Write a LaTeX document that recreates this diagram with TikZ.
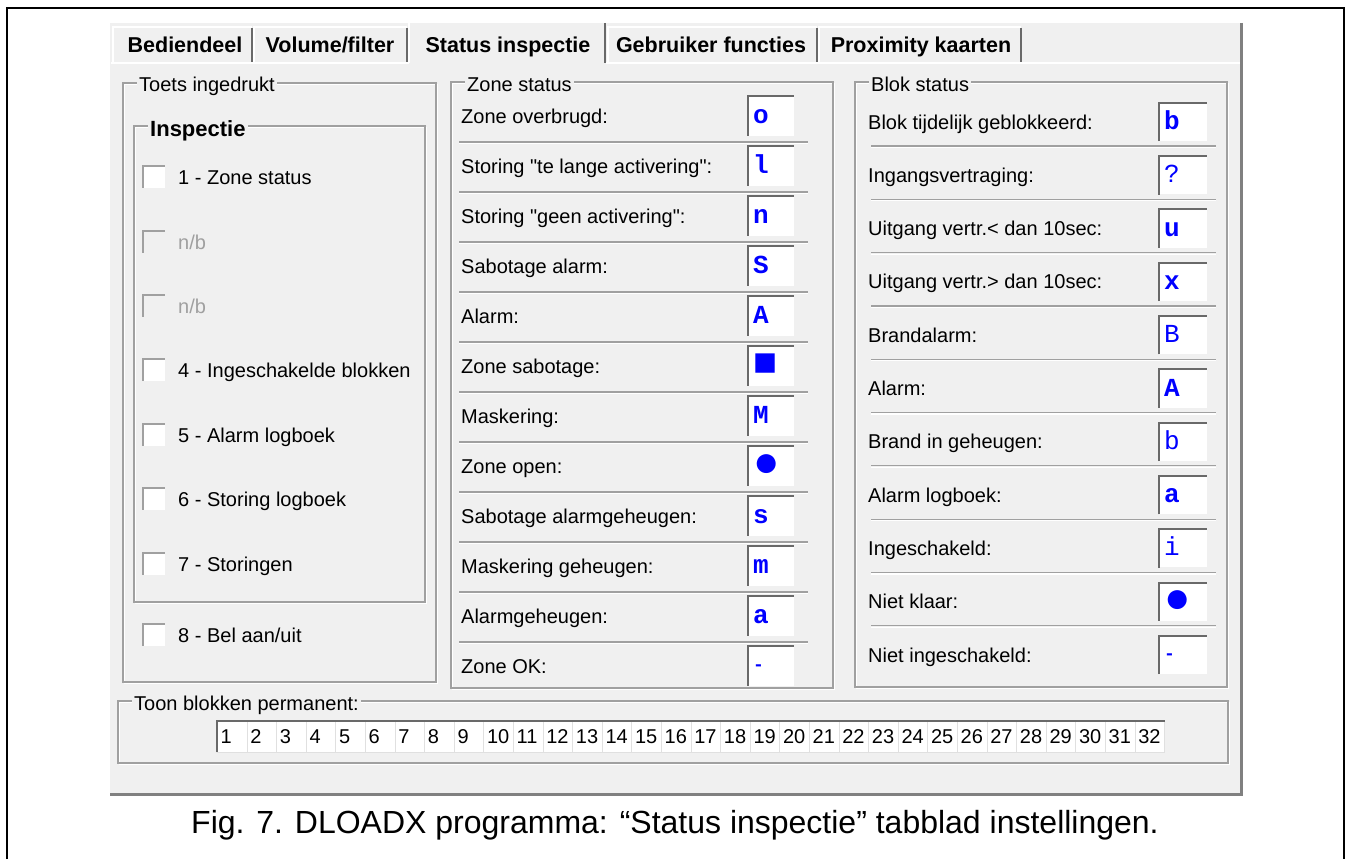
\documentclass[tikz,border=0pt]{standalone}
\usepackage{fontspec}
\setmainfont{Liberation Sans}
\newfontfamily\codefont{Liberation Mono}
\usetikzlibrary{positioning}
\definecolor{winbg}{HTML}{F0F0F0}
\definecolor{etchgrey}{HTML}{A0A0A0}
\definecolor{darkedge}{HTML}{696969}
\definecolor{winedge}{HTML}{808080}
\definecolor{valblue}{HTML}{0000FF}
\definecolor{greyed}{HTML}{A0A0A0}
\newcommand{\uifont}{\fontsize{20}{24}\selectfont}
\newcommand{\tabfont}{\fontsize{21.5}{24}\selectfont\bfseries}
\newcommand{\valfont}{\codefont\fontsize{26}{26}\selectfont\bfseries}
\newcommand{\capfont}{\fontsize{32}{38}\selectfont}
\newcommand{\bigdot}{{\fontsize{44}{26}\selectfont\raisebox{-3pt}{●}}}
\newcommand{\bigsquare}{{\fontsize{40}{26}\selectfont\raisebox{-2pt}{■}}}
\newcommand{\okdash}{{\fontsize{18}{26}\selectfont\raisebox{3pt}{-}}}

\begin{document}
\begin{tikzpicture}[x=1pt,y=-1pt,
  rowlabel/.style={anchor=west,inner sep=0pt,text height=14pt,text depth=0pt,font=\uifont},
  grouptitle/.style={anchor=west,fill=winbg,inner xsep=2pt,inner ysep=1pt,text height=14pt,text depth=0pt,font=\uifont},
  valbox/.style={fill=white,minimum height=39pt,text width=36pt,inner xsep=5pt,align=left,
    text height=15pt,text depth=0pt,font=\valfont,text=valblue},
  chkon/.style={fill=white,minimum size=21pt,inner sep=0pt},
  chkoff/.style={chkon,fill=winbg},
  cell/.style={anchor=north west,draw=black!12,fill=white,minimum height=31pt,text width=22.6pt,
    inner xsep=3.5pt,align=left,text height=14pt,text depth=0pt,font=\uifont},
  tablabel/.style={inner sep=0pt,text height=15pt,text depth=0pt,font=\tabfont},
  etched/.style={etchgrey,line width=1.2pt},
  lit/.style={white,line width=1.2pt},
  sunken/.style={darkedge,line width=2pt},
]
  \useasboundingbox (0,0) rectangle (1346,859);
  % figure frame, open at the bottom
  \draw[line width=2.5pt] (7,859) |- (1344,8) -- (1344,859);

  % dialog window
  \fill[winbg] (110,23) rectangle (1243,796);
  \draw[winedge,line width=3pt] (1241.5,23) |- (110,794.5);

  % tab strip
  \draw[lit,line width=1.5pt] (111,63) -- (409,63) (606,63) -- (1240,63);
  \foreach \xa/\xb in {112/253,253/408,607/818,818/1022} {
    \draw[lit,line width=1.5pt] (\xa+1,62) |- (\xb-1,27);
    \draw[darkedge,line width=2pt] (\xb-1,28) -- (\xb-1,62);
  }
  \draw[lit,line width=1.5pt] (409,63) |- (605,22);
  \draw[darkedge,line width=2pt] (605,23) -- (605,63);
  \foreach \n/\x/\t in {bed/185/Bediendeel,vol/330/{Volume/filter},stat/508/Status inspectie,
                        geb/711/Gebruiker functies,prox/921/Proximity kaarten}
    \node[tablabel] (tab\n) at (\x,45) {\t};

  % group frames
  \foreach \n/\xa/\ya/\xb/\yb/\dy/\t in {
      toets/123/83/436/682/2/{Toets ingedrukt},
      insp/134/126/425/602/3/{\fontsize{22}{24}\selectfont\bfseries Inspectie},
      zone/451/82/833/688/2/{Zone status},
      blok/855/82/1227/687/2/{Blok status},
      toon/118/701/1228/763/2/{Toon blokken permanent:}} {
    \draw[lit] (\xa+1.5,\ya+1.5) rectangle (\xb+1.5,\yb+1.5);
    \draw[etched] (\xa,\ya) rectangle (\xb,\yb);
    \node[grouptitle] (\n) at (\xa+14,\ya+\dy) {\t};
  }

  % keys with check boxes
  \foreach \i/\y/\st/\t in {1/177/chkon/{1 - Zone status},2/242/chkoff/{\color{greyed}n/b},
      3/306/chkoff/{\color{greyed}n/b},4/370/chkon/{4 - Ingeschakelde blokken},
      5/435/chkon/{5 - Alarm logboek},6/499/chkon/{6 - Storing logboek},
      7/564/chkon/{7 - Storingen},8/635/chkon/{8 - Bel aan/uit}} {
    \node[\st] (cb\i) at (154,\y) {};
    \draw[etchgrey,line width=2pt] (cb\i.south west) |- (cb\i.north east);
    \node[rowlabel] (key\i) at (178,\y) {\t};
  }

  % zone status rows
  \foreach \k in {0,...,10} {
    \draw[lit] (459,{143.5+50*\k}) -- (808,{143.5+50*\k});
    \draw[etched] (459,{142+50*\k}) -- (808,{142+50*\k});
  }
  \foreach \i/\t/\v in {0/Zone overbrugd:/o,1/Storing \textquotedbl te lange activering\textquotedbl:/l,
      2/Storing \textquotedbl geen activering\textquotedbl:/n,3/Sabotage alarm:/S,4/Alarm:/A,
      5/Zone sabotage:/\bigsquare,6/Maskering:/M,7/Zone open:/\bigdot,8/Sabotage alarmgeheugen:/s,
      9/Maskering geheugen:/m,10/Alarmgeheugen:/a,11/Zone OK:/\okdash} {
    \node[rowlabel] (zl\i) at (461,{116+50*\i}) {\t};
    \node[valbox,text width=36pt,inner xsep=5pt] (zv\i) at (771,{116+50*\i}) {\v};
    \draw[sunken] (zv\i.south west) |- (zv\i.north east);
  }

  % block status rows
  \foreach \k in {0,...,9} {
    \draw[lit] (871,{147.5+53.3*\k}) -- (1216,{147.5+53.3*\k});
    \draw[etched] (871,{146+53.3*\k}) -- (1216,{146+53.3*\k});
  }
  \foreach \i/\t/\v in {0/Blok tijdelijk geblokkeerd:/b,1/Ingangsvertraging:/{\mdseries ?},
      2/Uitgang vertr.< dan 10sec:/u,3/Uitgang vertr.> dan 10sec:/x,4/Brandalarm:/{\mdseries B},
      5/Alarm:/A,6/Brand in geheugen:/{\mdseries b},7/Alarm logboek:/a,
      8/Ingeschakeld:/{\mdseries i},9/Niet klaar:/\bigdot,10/Niet ingeschakeld:/\okdash} {
    \node[rowlabel] (bl\i) at (868,{122+53.3*\i}) {\t};
    \node[valbox,text width=38pt,minimum height=38pt] (bv\i) at (1183,{122+53.3*\i}) {\v};
    \draw[sunken] (bv\i.south west) |- (bv\i.north east);
  }

  % blocks shown permanently
  \foreach \n in {1,...,32}
    \node[cell] (c\n) at ({217+29.6*(\n-1)},721) {\n};
  \draw[sunken] (c1.south west) |- (c32.north east);

  \node[font=\capfont,anchor=base] (caption) at (675,833)
    {Fig. 7. DLOADX programma: “Status inspectie” tabblad instellingen.};
\end{tikzpicture}
\end{document}
